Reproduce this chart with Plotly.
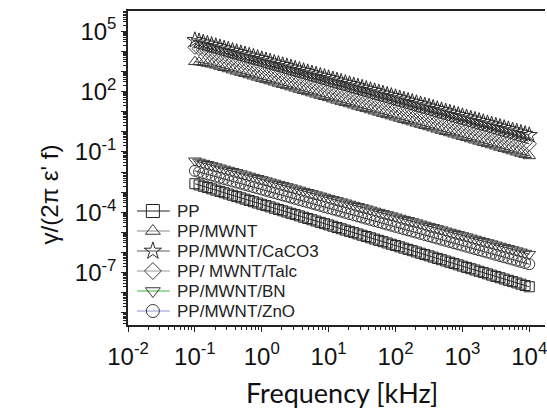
import plotly.graph_objects as go

# Frequency [kHz] (16 points per decade)
freq = [0.1, 0.1155, 0.1334, 0.154, 0.1778, 0.2054, 0.2371, 0.2738, 0.3162, 0.3652, 0.4217, 0.487, 0.5623, 0.6494, 0.7499, 0.866,
        1, 1.155, 1.334, 1.54, 1.778, 2.054, 2.371, 2.738, 3.162, 3.652, 4.217, 4.87, 5.623, 6.494, 7.499, 8.66,
        10, 11.55, 13.34, 15.4, 17.78, 20.54, 23.71, 27.38, 31.62, 36.52, 42.17, 48.7, 56.23, 64.94, 74.99, 86.6,
        100, 115.5, 133.4, 154, 177.8, 205.4, 237.1, 273.8, 316.2, 365.2, 421.7, 487, 562.3, 649.4, 749.9, 866,
        1000, 1155, 1334, 1540, 1778, 2054, 2371, 2738, 3162, 3652, 4217, 4870, 5623, 6494, 7499, 8660,
        10000]

# log10 of gamma/(2 pi eps' f)
pp_log = [-2.580, -2.644, -2.708, -2.772, -2.836, -2.900, -2.964, -3.028, -3.092, -3.156,
          -3.220, -3.284, -3.348, -3.412, -3.476, -3.540, -3.604, -3.668, -3.732, -3.796,
          -3.860, -3.924, -3.988, -4.052, -4.116, -4.180, -4.244, -4.308, -4.372, -4.436,
          -4.500, -4.564, -4.628, -4.692, -4.756, -4.820, -4.884, -4.948, -5.012, -5.076,
          -5.140, -5.204, -5.268, -5.332, -5.396, -5.460, -5.524, -5.588, -5.652, -5.716,
          -5.780, -5.844, -5.908, -5.972, -6.036, -6.100, -6.164, -6.228, -6.292, -6.356,
          -6.420, -6.484, -6.548, -6.612, -6.676, -6.740, -6.804, -6.868, -6.932, -6.996,
          -7.060, -7.124, -7.188, -7.252, -7.316, -7.380, -7.444, -7.508, -7.572, -7.636,
          -7.700]
mwnt_log = [3.48, 3.46, 3.43, 3.39, 3.35, 3.30, 3.24, 3.18, 3.12, 3.06,
            3.00, 2.94, 2.88, 2.82, 2.76, 2.70, 2.64, 2.58, 2.52, 2.46,
            2.40, 2.34, 2.28, 2.22, 2.16, 2.10, 2.04, 1.98, 1.92, 1.86,
            1.80, 1.74, 1.68, 1.62, 1.56, 1.50, 1.44, 1.38, 1.32, 1.26,
            1.20, 1.14, 1.08, 1.02, 0.96, 0.90, 0.84, 0.78, 0.72, 0.66,
            0.60, 0.54, 0.48, 0.42, 0.36, 0.30, 0.24, 0.18, 0.12, 0.06,
            0.00, -0.06, -0.12, -0.18, -0.24, -0.30, -0.36, -0.42, -0.48, -0.54,
            -0.60, -0.66, -0.72, -0.78, -0.84, -0.90, -0.96, -1.02, -1.08, -1.14,
            -1.20]
caco3_log = [4.550, 4.491, 4.432, 4.373, 4.314, 4.255, 4.196, 4.137, 4.078, 4.019,
             3.960, 3.901, 3.842, 3.783, 3.724, 3.665, 3.606, 3.547, 3.488, 3.429,
             3.370, 3.311, 3.252, 3.193, 3.134, 3.075, 3.016, 2.957, 2.898, 2.839,
             2.780, 2.721, 2.662, 2.603, 2.544, 2.485, 2.426, 2.367, 2.308, 2.249,
             2.190, 2.131, 2.072, 2.013, 1.954, 1.895, 1.836, 1.777, 1.718, 1.659,
             1.600, 1.541, 1.482, 1.423, 1.364, 1.305, 1.246, 1.187, 1.128, 1.069,
             1.010, 0.951, 0.892, 0.833, 0.774, 0.715, 0.656, 0.597, 0.538, 0.479,
             0.420, 0.361, 0.302, 0.243, 0.184, 0.125, 0.066, 0.007, -0.052, -0.111,
             -0.170]
talc_log = [4.20, 4.14, 4.08, 4.02, 3.96, 3.90, 3.84, 3.78, 3.72, 3.66,
            3.60, 3.54, 3.48, 3.42, 3.36, 3.30, 3.24, 3.18, 3.12, 3.06,
            3.00, 2.94, 2.88, 2.82, 2.76, 2.70, 2.64, 2.58, 2.52, 2.46,
            2.40, 2.34, 2.28, 2.22, 2.16, 2.10, 2.04, 1.98, 1.92, 1.86,
            1.80, 1.74, 1.68, 1.62, 1.56, 1.50, 1.44, 1.38, 1.32, 1.26,
            1.20, 1.14, 1.08, 1.02, 0.96, 0.90, 0.84, 0.78, 0.72, 0.66,
            0.60, 0.54, 0.48, 0.42, 0.36, 0.30, 0.24, 0.18, 0.12, 0.06,
            0.00, -0.06, -0.12, -0.18, -0.24, -0.30, -0.36, -0.42, -0.48, -0.54,
            -0.60]
bn_log = [-1.440, -1.498, -1.556, -1.614, -1.672, -1.730, -1.788, -1.846, -1.904, -1.962,
          -2.020, -2.078, -2.136, -2.194, -2.252, -2.310, -2.368, -2.426, -2.484, -2.542,
          -2.600, -2.658, -2.716, -2.774, -2.832, -2.890, -2.948, -3.006, -3.064, -3.122,
          -3.180, -3.238, -3.296, -3.354, -3.412, -3.470, -3.528, -3.586, -3.644, -3.702,
          -3.760, -3.818, -3.876, -3.934, -3.992, -4.050, -4.108, -4.166, -4.224, -4.282,
          -4.340, -4.398, -4.456, -4.514, -4.572, -4.630, -4.688, -4.746, -4.804, -4.862,
          -4.920, -4.978, -5.036, -5.094, -5.152, -5.210, -5.268, -5.326, -5.384, -5.442,
          -5.500, -5.558, -5.616, -5.674, -5.732, -5.790, -5.848, -5.906, -5.964, -6.022,
          -6.080]
zno_log = [-1.940, -1.998, -2.056, -2.114, -2.172, -2.230, -2.288, -2.346, -2.404, -2.462,
           -2.520, -2.578, -2.636, -2.694, -2.752, -2.810, -2.868, -2.926, -2.984, -3.042,
           -3.100, -3.158, -3.216, -3.274, -3.332, -3.390, -3.448, -3.506, -3.564, -3.622,
           -3.680, -3.738, -3.796, -3.854, -3.912, -3.970, -4.028, -4.086, -4.144, -4.202,
           -4.260, -4.318, -4.376, -4.434, -4.492, -4.550, -4.608, -4.666, -4.724, -4.782,
           -4.840, -4.898, -4.956, -5.014, -5.072, -5.130, -5.188, -5.246, -5.304, -5.362,
           -5.420, -5.478, -5.536, -5.594, -5.652, -5.710, -5.768, -5.826, -5.884, -5.942,
           -6.000, -6.058, -6.116, -6.174, -6.232, -6.290, -6.348, -6.406, -6.464, -6.522,
           -6.580]

names = ["PP", "PP/MWNT", "PP/MWNT/CaCO3", "PP/ MWNT/Talc", "PP/MWNT/BN", "PP/MWNT/ZnO"]
series = [pp_log, mwnt_log, caco3_log, talc_log, bn_log, zno_log]
symbols = ["square-open", "triangle-up-open", "star-open", "diamond-open",
           "triangle-down-open", "circle-open"]
legend_line_colors = ["#222222", "#8a8a8a", "#5a5a5a", "#9a9a9a", "#3cb43c", "#8c96d2"]
marker_colors = ["#222222", "#3a3a3a", "#2a2a2a", "#3a3a3a", "#3a3a3a", "#3a3a3a"]
marker_sizes = [10, 11, 12, 11, 11, 11]

x_ticks = [0.01, 0.1, 1, 10, 100, 1000, 10000]
x_ticktext = ["10<sup>-2</sup>", "10<sup>-1</sup>", "10<sup>0</sup>", "10<sup>1</sup>",
              "10<sup>2</sup>", "10<sup>3</sup>", "10<sup>4</sup>"]
y_exps = list(range(-9, 6))
y_labeled = {-7: "10<sup>-7</sup>", -4: "10<sup>-4</sup>", -1: "10<sup>-1</sup>",
             2: "10<sup>2</sup>", 5: "10<sup>5</sup>"}

# plot-area geometry (pixels)
L, T, W, H = 128, 11, 419, 314

fig = go.Figure()

draw_order = [0, 5, 4, 1, 3, 2]
for i in draw_order:
    fig.add_trace(go.Scatter(
        x=freq, y=[10 ** v for v in series[i]], mode="lines+markers",
        line=dict(color="#333333", width=1),
        marker=dict(symbol=symbols[i], size=marker_sizes[i], color=marker_colors[i],
                    line=dict(color=marker_colors[i], width=1)),
        showlegend=False, name=names[i]))

# legend drawn on an overlay axis measured in plot-area pixels
leg_top = 211 - T   # first entry centre, px from plot top
leg_step = 20
for i in range(6):
    yy = H - (leg_top + leg_step * i)
    fig.add_trace(go.Scatter(
        x=[137 - L, 170 - L], y=[yy, yy], mode="lines",
        line=dict(color=legend_line_colors[i], width=1),
        xaxis="x2", yaxis="y2", showlegend=False, hoverinfo="skip"))
    fig.add_trace(go.Scatter(
        x=[153 - L], y=[yy], mode="markers",
        marker=dict(symbol=symbols[i], size=13, color=marker_colors[i],
                    line=dict(color=marker_colors[i], width=1)),
        xaxis="x2", yaxis="y2", showlegend=False, hoverinfo="skip", name=names[i]))
    fig.add_annotation(text=names[i], xref="x2", yref="y2", x=175 - L, y=yy,
                       xanchor="left", yanchor="middle", showarrow=False,
                       font=dict(family="Liberation Sans, Arial", size=17, color="#222"))

fig.update_layout(
    width=547, height=415,
    margin=dict(l=L, r=547 - L - W, t=T, b=415 - T - H),
    paper_bgcolor="white", plot_bgcolor="white",
    showlegend=False,
    xaxis=dict(type="log", range=[-2, 4.235], showgrid=False, zeroline=False,
               showline=True, linecolor="#222", linewidth=1.5, mirror=True,
               ticks="outside", ticklen=5, tickcolor="#222", tickwidth=1,
               tickvals=x_ticks, ticktext=x_ticktext, ticklabeloverflow="allow",
               ticklabelstandoff=4,
               tickfont=dict(family="Liberation Sans, Arial", size=24, color="#111"),
               minor=dict(ticks="outside", ticklen=3, tickcolor="#222", dtick="D1")),
    yaxis=dict(type="log", range=[-9.6, 6.0], showgrid=False, zeroline=False,
               showline=True, linecolor="#222", linewidth=1.5, mirror=False,
               ticks="outside", ticklen=5, tickcolor="#222", tickwidth=1,
               tickvals=[10 ** e for e in y_exps],
               ticktext=[y_labeled.get(e, "") for e in y_exps],
               tickfont=dict(family="Liberation Sans, Arial", size=24, color="#111"),
               minor=dict(ticks="outside", ticklen=3, tickcolor="#222", dtick="D1")),
    xaxis2=dict(overlaying="x", range=[0, W], visible=False, anchor="y2"),
    yaxis2=dict(overlaying="y", range=[0, H], visible=False, anchor="x2"),
)

fig.add_annotation(text="Frequency [kHz]", xref="paper", yref="paper",
                   x=(343 - L) / W, y=-(392 - (T + H)) / H,
                   xanchor="center", yanchor="middle", showarrow=False,
                   font=dict(family="Lato, Open Sans", size=27, color="#111"))
fig.add_annotation(text="γ/(2π ε' f)", xref="paper", yref="paper",
                   x=-(L - 49) / W, y=((T + H) - 194) / H,
                   xanchor="center", yanchor="middle", showarrow=False, textangle=-90,
                   font=dict(family="Liberation Sans, Arial", size=24, color="#111"))

fig.write_html("out.html")
